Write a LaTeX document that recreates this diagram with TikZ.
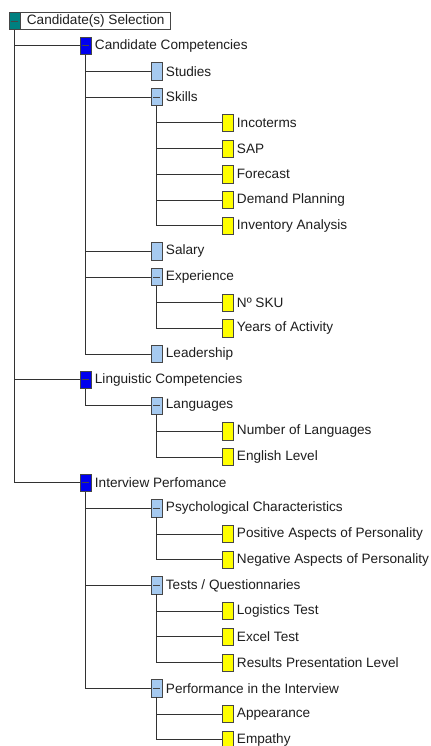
\documentclass[tikz,border=0pt]{standalone}
\usepackage{fontspec}
\setmainfont{Liberation Sans}
\usetikzlibrary{positioning}
\definecolor{rootcol}{RGB}{0,128,128}
\definecolor{onecol}{RGB}{0,0,240}
\definecolor{twocol}{RGB}{166,202,240}
\definecolor{threecol}{RGB}{255,255,0}
\definecolor{boxline}{RGB}{70,70,70}
\definecolor{linecol}{RGB}{50,50,50}
\definecolor{txtcol}{RGB}{30,30,30}

\begin{document}
\begin{tikzpicture}[x=0.75pt, y=-0.75pt,
  box/.style={draw=boxline, line width=0.5pt, minimum width=8.25pt, minimum height=13pt, inner sep=0pt},
  parent/.style={path picture={\draw[boxline, line width=0.6pt] ([xshift=1.5pt]path picture bounding box.west) -- ([xshift=-1.5pt]path picture bounding box.east);}},
  rootbox/.style={box, parent, fill=rootcol, minimum height=12.5pt},
  lvlone/.style={box, parent, fill=onecol},
  lvltwo/.style={box, fill=twocol},
  lvlthree/.style={box, fill=threecol},
  txt/.style={inner sep=0pt, font=\fontsize{10.2}{12}\selectfont, text=txtcol},
  link/.style={draw=linecol, line width=0.6pt}]
\useasboundingbox[fill=white] (0,0) rectangle (431,746);

% root
\node[rootbox] (root) at (14.5,21) {};
\node[draw=boxline, line width=0.5pt, minimum width=112.5pt, minimum height=12.5pt, inner sep=0pt, txt, right=0pt of root] (root-t) {Candidate(s) Selection};
\node[rootbox] at (root) {};

% candidate competencies
\node[lvlone] (cc) at (85.5,45.7) {};
\node[txt, right=2.5pt of cc] (cc-t) {Candidate Competencies};
\node[lvltwo] (studies) at (156.5,71.4) {};
\node[txt, right=2.5pt of studies] (studies-t) {Studies};
\node[lvltwo, parent] (skills) at (156.5,97.1) {};
\node[txt, right=2.5pt of skills] (skills-t) {Skills};
\node[lvlthree] (incoterms) at (227.5,122.8) {};
\node[txt, right=2.5pt of incoterms] (incoterms-t) {Incoterms};
\node[lvlthree] (sap) at (227.5,148.5) {};
\node[txt, right=2.5pt of sap] (sap-t) {SAP};
\node[lvlthree] (forecast) at (227.5,174.2) {};
\node[txt, right=2.5pt of forecast] (forecast-t) {Forecast};
\node[lvlthree] (demand) at (227.5,199.9) {};
\node[txt, right=2.5pt of demand] (demand-t) {Demand Planning};
\node[lvlthree] (inventory) at (227.5,225.6) {};
\node[txt, right=2.5pt of inventory] (inventory-t) {Inventory Analysis};
\node[lvltwo] (salary) at (156.5,251.3) {};
\node[txt, right=2.5pt of salary] (salary-t) {Salary};
\node[lvltwo, parent] (experience) at (156.5,277) {};
\node[txt, right=2.5pt of experience] (experience-t) {Experience};
\node[lvlthree] (sku) at (227.5,302.7) {};
\node[txt, right=2.5pt of sku] (sku-t) {Nº SKU};
\node[lvlthree] (years) at (227.5,328.4) {};
\node[txt, right=2.5pt of years] (years-t) {Years of Activity};
\node[lvltwo] (leadership) at (156.5,354.1) {};
\node[txt, right=2.5pt of leadership] (leadership-t) {Leadership};

% linguistic competencies
\node[lvlone] (lc) at (85.5,379.8) {};
\node[txt, right=2.5pt of lc] (lc-t) {Linguistic Competencies};
\node[lvltwo, parent] (languages) at (156.5,405.5) {};
\node[txt, right=2.5pt of languages] (languages-t) {Languages};
\node[lvlthree] (numlang) at (227.5,431.2) {};
\node[txt, right=2.5pt of numlang] (numlang-t) {Number of Languages};
\node[lvlthree] (english) at (227.5,456.9) {};
\node[txt, right=2.5pt of english] (english-t) {English Level};

% interview perfomance
\node[lvlone] (ip) at (85.5,482.6) {};
\node[txt, right=2.5pt of ip] (ip-t) {Interview Perfomance};
\node[lvltwo, parent] (psych) at (156.5,508.3) {};
\node[txt, right=2.5pt of psych] (psych-t) {Psychological Characteristics};
\node[lvlthree] (positive) at (227.5,534) {};
\node[txt, right=2.5pt of positive] (positive-t) {Positive Aspects of Personality};
\node[lvlthree] (negative) at (227.5,559.7) {};
\node[txt, right=2.5pt of negative] (negative-t) {Negative Aspects of Personality};
\node[lvltwo, parent] (tests) at (156.5,585.4) {};
\node[txt, right=2.5pt of tests] (tests-t) {Tests / Questionnaries};
\node[lvlthree] (logistics) at (227.5,611.1) {};
\node[txt, right=2.5pt of logistics] (logistics-t) {Logistics Test};
\node[lvlthree] (excel) at (227.5,636.8) {};
\node[txt, right=2.5pt of excel] (excel-t) {Excel Test};
\node[lvlthree] (results) at (227.5,662.5) {};
\node[txt, right=2.5pt of results] (results-t) {Results Presentation Level};
\node[lvltwo, parent] (perfint) at (156.5,688.2) {};
\node[txt, right=2.5pt of perfint] (perfint-t) {Performance in the Interview};
\node[lvlthree] (appearance) at (227.5,713.9) {};
\node[txt, right=2.5pt of appearance] (appearance-t) {Appearance};
\node[lvlthree] (empathy) at (227.5,739.6) {};
\node[txt, right=2.5pt of empathy] (empathy-t) {Empathy};

% connectors
\draw[link] (root) |- (cc);
\draw[link] (root) |- (lc);
\draw[link] (root) |- (ip);
\draw[link] (cc) |- (studies);
\draw[link] (cc) |- (skills);
\draw[link] (cc) |- (salary);
\draw[link] (cc) |- (experience);
\draw[link] (cc) |- (leadership);
\draw[link] (skills) |- (incoterms);
\draw[link] (skills) |- (sap);
\draw[link] (skills) |- (forecast);
\draw[link] (skills) |- (demand);
\draw[link] (skills) |- (inventory);
\draw[link] (experience) |- (sku);
\draw[link] (experience) |- (years);
\draw[link] (lc) |- (languages);
\draw[link] (languages) |- (numlang);
\draw[link] (languages) |- (english);
\draw[link] (ip) |- (psych);
\draw[link] (ip) |- (tests);
\draw[link] (ip) |- (perfint);
\draw[link] (psych) |- (positive);
\draw[link] (psych) |- (negative);
\draw[link] (tests) |- (logistics);
\draw[link] (tests) |- (excel);
\draw[link] (tests) |- (results);
\draw[link] (perfint) |- (appearance);
\draw[link] (perfint) |- (empathy);
\end{tikzpicture}
\end{document}
